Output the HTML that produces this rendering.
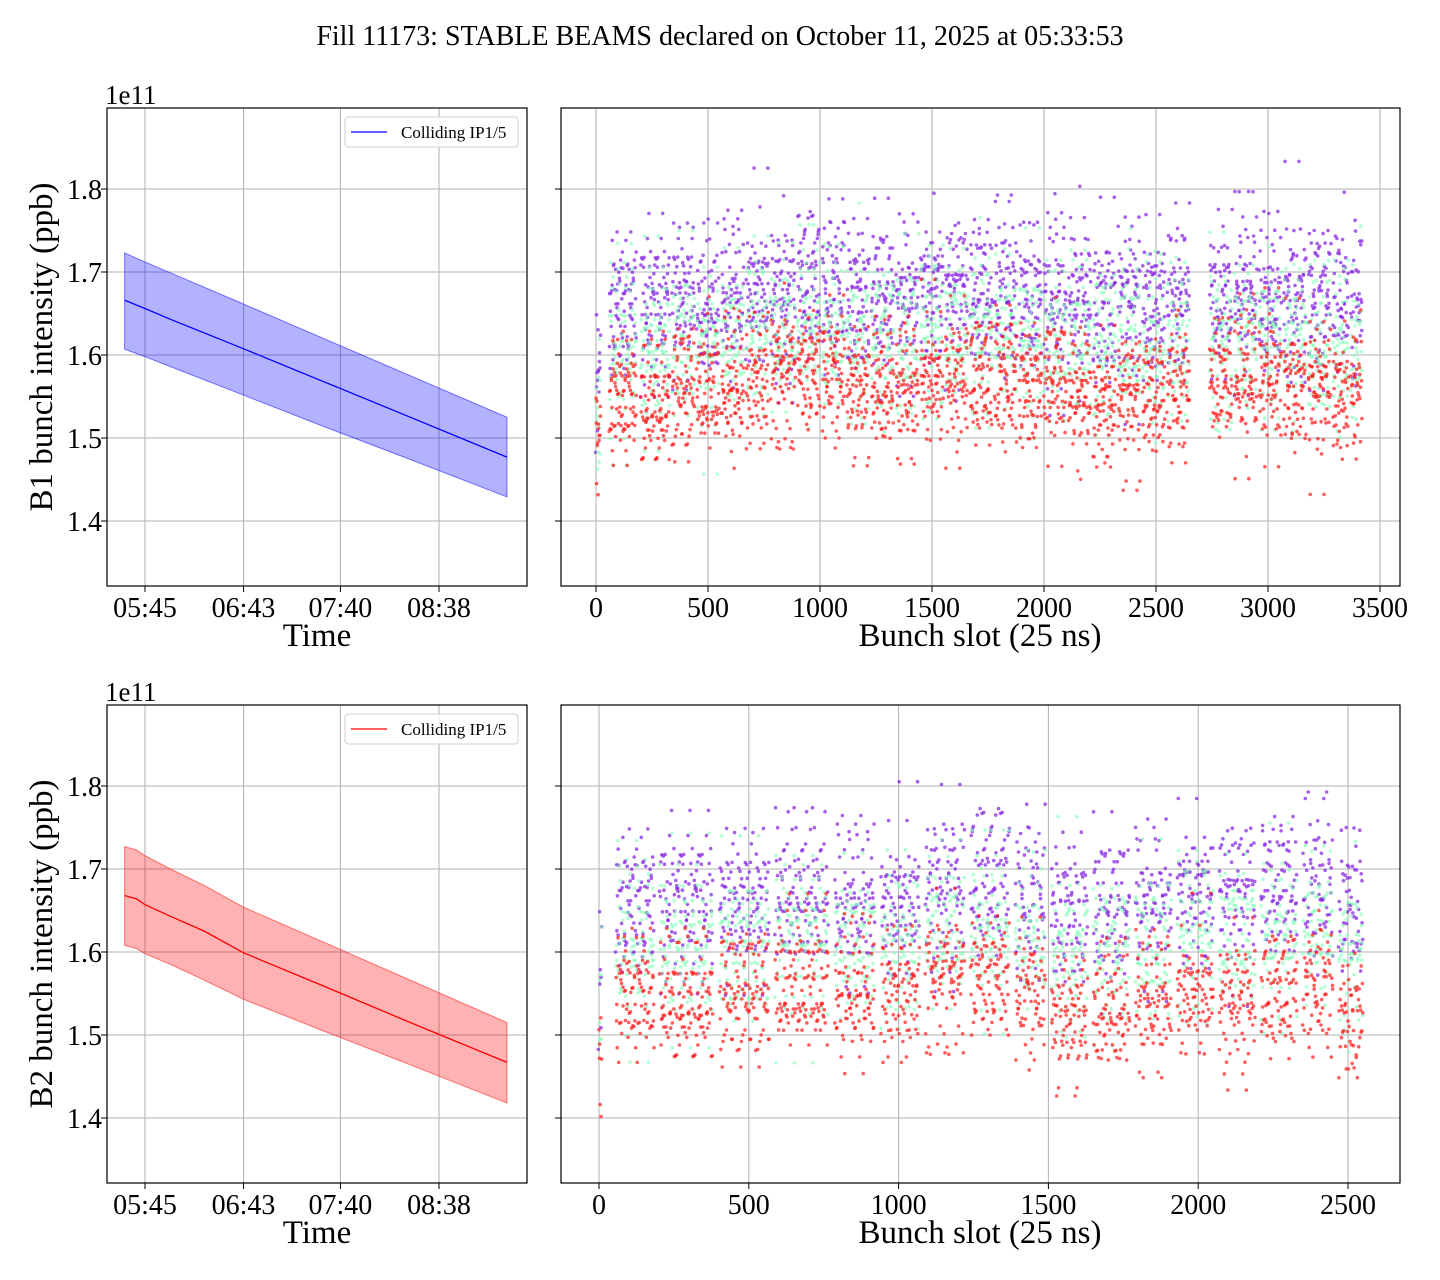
<!DOCTYPE html>
<html><head><meta charset="utf-8"><style>
body{margin:0;background:#fff;}
svg{display:block;font-family:"Liberation Serif","DejaVu Serif",serif;}
</style></head><body>
<svg id="fig" width="1440" height="1280" xmlns="http://www.w3.org/2000/svg">
<text x="720" y="45" text-anchor="middle" font-size="28">Fill 11173: STABLE BEAMS declared on October 11, 2025 at 05:33:53</text>
</svg>
<script>
// ---- data ----
const timeTicks = ["05:45","06:43","07:40","08:38"];
const timeTickMin = [345,403,460,518];
const yTicks = [1.4,1.5,1.6,1.7,1.8];
const b1Time = [333,345,360,400,450,500,558];
const b1Mean = [1.666,1.656,1.643,1.610,1.568,1.526,1.477];
const b1Upper = [1.723,1.712,1.699,1.664,1.620,1.576,1.525];
const b1Lower = [1.607,1.598,1.586,1.554,1.514,1.475,1.429];
const b2Time = [333,340,345,360,380,403,450,500,558];
const b2Mean = [1.668,1.664,1.657,1.643,1.625,1.599,1.559,1.516,1.467];
const b2Upper = [1.727,1.723,1.716,1.700,1.680,1.654,1.612,1.567,1.515];
const b2Lower = [1.608,1.604,1.598,1.585,1.566,1.543,1.505,1.465,1.418];
const b1SlotTicks = [0,500,1000,1500,2000,2500,3000,3500];
const b2SlotTicks = [0,500,1000,1500,2000,2500];
// trains: start, end slot; levels per train [purple, green, red]
const b1TrainStart = [0,60,200,340,450,560,670,780,900,1010,1120,1230,1340,1450,1560,1670,1780,1890,2000,2110,2220,2330,2440,2550,2740,2850,2960,3070,3180,3290,3370];
const b1TrainEnd   = [20,180,330,440,550,660,770,890,1000,1110,1220,1330,1440,1550,1660,1770,1880,1990,2100,2210,2320,2430,2540,2650,2840,2950,3060,3170,3280,3360,3420];
const b1Purple = [1.58,1.66,1.66,1.67,1.66,1.67,1.68,1.67,1.69,1.68,1.67,1.67,1.67,1.68,1.68,1.68,1.68,1.67,1.67,1.67,1.66,1.67,1.66,1.67,1.67,1.68,1.67,1.67,1.67,1.67,1.66];
const b1Green  = [1.53,1.61,1.61,1.62,1.61,1.62,1.63,1.63,1.64,1.63,1.62,1.62,1.62,1.63,1.63,1.63,1.63,1.62,1.62,1.62,1.61,1.62,1.61,1.62,1.62,1.62,1.62,1.62,1.61,1.61,1.61];
const b1Red    = [1.50,1.55,1.54,1.56,1.56,1.56,1.57,1.58,1.58,1.58,1.56,1.56,1.56,1.57,1.57,1.57,1.57,1.56,1.57,1.55,1.54,1.55,1.55,1.56,1.57,1.57,1.57,1.56,1.56,1.55,1.56];
const b2TrainStart = [0,57,203,403,588,788,942,1090,1240,1390,1510,1650,1790,1930,2070,2210,2350,2470];
const b2TrainEnd   = [10,185,381,568,766,921,1070,1220,1370,1490,1630,1770,1910,2050,2190,2330,2450,2550];
const b2Purple = [1.58,1.66,1.66,1.66,1.67,1.66,1.66,1.68,1.69,1.67,1.65,1.65,1.66,1.67,1.67,1.68,1.68,1.66];
const b2Green  = [1.54,1.61,1.61,1.61,1.62,1.61,1.61,1.63,1.63,1.62,1.60,1.60,1.61,1.62,1.62,1.62,1.63,1.60];
const b2Red    = [1.48,1.55,1.54,1.55,1.56,1.55,1.55,1.57,1.57,1.55,1.52,1.53,1.54,1.55,1.54,1.55,1.56,1.52];
const jitter = [0.31,-0.82,0.55,-0.12,0.93,-0.47,0.08,-0.66,0.72,-0.29,0.41,-1.6,0.17,-0.38,0.86,-0.04,0.62,-0.73,0.24,-0.55,1.7,-0.18,0.47,-0.88,0.12,-0.61,0.78,-0.33,0.05,-0.44,0.67,-0.91,0.36,-0.22,0.84,-0.69,0.2,-1.3,1.2,0.0,-0.1];

// ---- helpers ----
const NS="http://www.w3.org/2000/svg";
const fig=document.getElementById('fig');
function mk(tag,attrs,parent){const e=document.createElementNS(NS,tag);for(const k in attrs)e.setAttribute(k,attrs[k]);(parent||fig).appendChild(e);return e;}
const Y0=1.8, Y0px=189, PXPER=830;
function yScale(v,off){return off+Y0px-(v-Y0)*PXPER;}

function axesFrame(x0,y0,w,h,name){
  const r=mk('rect',{x:x0,y:y0,width:w,height:h,fill:'none',stroke:'#000','stroke-width':1.2});
  
  
}
function yGrid(x0,w,off,labels,name){
  yTicks.forEach(v=>{const y=yScale(v,off);
    const g=mk('line',{x1:x0,x2:x0+w,y1:y,y2:y,stroke:'#b0b0b0','stroke-width':1});
    
    
    mk('line',{x1:x0-6,x2:x0,y1:y,y2:y,stroke:'#000','stroke-width':1});
    if(labels){const t=mk('text',{x:x0-5,y:y+10,'text-anchor':'end','font-size':28});t.textContent=v.toFixed(1);
      
      }
  });
}
function leftPanel(off,times,mean,upper,lower,col,fillc,ylabel){
  const x0=107,w=420,y0=108+off,h=478;
  const xs=m=>145+(m-345)*(98/57.67);
  timeTickMin.forEach((m,i)=>{const x=xs(m);
    const g=mk('line',{x1:x,x2:x,y1:y0,y2:y0+h,stroke:'#b0b0b0','stroke-width':1});
    
    
    mk('line',{x1:x,x2:x,y1:y0+h,y2:y0+h+6,stroke:'#000'});
    const t=mk('text',{x:x,y:y0+h+31,'text-anchor':'middle','font-size':28});t.textContent=timeTicks[i];
    
    
  });
  yGrid(x0,w,off,true,'left');
  let d='';times.forEach((m,i)=>{d+=(i?'L':'M')+xs(m)+','+yScale(upper[i],off);});
  for(let i=times.length-1;i>=0;i--)d+='L'+xs(times[i])+','+yScale(lower[i],off);
  const b=mk('path',{d:d+'Z',fill:fillc,'fill-opacity':0.3,stroke:fillc,'stroke-opacity':0.5});
  
  
  let l='';times.forEach((m,i)=>{l+=(i?'L':'M')+xs(m)+','+yScale(mean[i],off);});
  const p=mk('path',{d:l,fill:'none',stroke:col,'stroke-width':1.3});
  
  
  axesFrame(x0,y0,w,h,'left-axes');
  const lg=mk('rect',{x:345,y:117+off,width:173,height:30,rx:3,fill:'#fff','fill-opacity':0.8,stroke:'#d0d0d0'});
  
  
  mk('line',{x1:351,x2:387,y1:132+off,y2:132+off,stroke:col,'stroke-width':1.3});
  const lt=mk('text',{x:401,y:138+off,'font-size':17});lt.textContent='Colliding IP1/5';
  
  
  const e=mk('text',{x:105,y:104+off,'font-size':27});e.textContent='1e11';
  
  
  const xl=mk('text',{x:317,y:646+off,'text-anchor':'middle','font-size':33});xl.textContent='Time';
  
  
  const yl=mk('text',{x:0,y:0,'text-anchor':'middle','font-size':33,transform:`translate(52,${347+off}) rotate(-90)`});yl.textContent=ylabel;
  
  
}
function rightPanel(off,slot0px,pxPerSlot,ticks,starts,ends,pur,grn,red){
  const x0=561,w=839,y0=108+off,h=478;
  const xs=s=>slot0px+s*pxPerSlot;
  ticks.forEach(v=>{const x=xs(v);
    const g=mk('line',{x1:x,x2:x,y1:y0,y2:y0+h,stroke:'#b0b0b0','stroke-width':1});
    
    
    mk('line',{x1:x,x2:x,y1:y0+h,y2:y0+h+6,stroke:'#000'});
    const t=mk('text',{x:x,y:y0+h+31,'text-anchor':'middle','font-size':28});t.textContent=v;
    
    
  });
  yGrid(x0,w,off,false,'right');
  const g=mk('g',{});
  
  
  const sets=[[pur,'#8a2be2',0.75,0.06],[grn,'#7dffb4',0.6,0.06],[red,'#ff1a1a',0.7,0.05]];
  let k=0;
  sets.forEach((st,c)=>{
    starts.forEach((s0,t)=>{
      for(let s=s0;s<=ends[t];s+=1.5){
        k++;
        const j1=jitter[(k*7+c*13)%jitter.length], j2=jitter[(k*11+t*5)%jitter.length];
        const v=st[0][t]+st[3]*(j1+0.6*j2);
        const cx=xs(s+(j2*1.2));
        mk('circle',{cx:cx.toFixed(1),cy:yScale(v,off).toFixed(1),r:1.8,fill:st[1],'fill-opacity':st[2]},g);
      }
    });
  });
  axesFrame(x0,y0,w,h,'right-axes');
  const xl=mk('text',{x:980,y:646+off,'text-anchor':'middle','font-size':33});xl.textContent='Bunch slot (25 ns)';
  
  
}
leftPanel(0,b1Time,b1Mean,b1Upper,b1Lower,'#0000ff','#0000ff','B1 bunch intensity (ppb)');
rightPanel(0,596,0.224,b1SlotTicks,b1TrainStart,b1TrainEnd,b1Purple,b1Green,b1Red);
leftPanel(597,b2Time,b2Mean,b2Upper,b2Lower,'#ff0000','#ff0000','B2 bunch intensity (ppb)');
rightPanel(597,599,0.2996,b2SlotTicks,b2TrainStart,b2TrainEnd,b2Purple,b2Green,b2Red);
</script>
</body></html>
